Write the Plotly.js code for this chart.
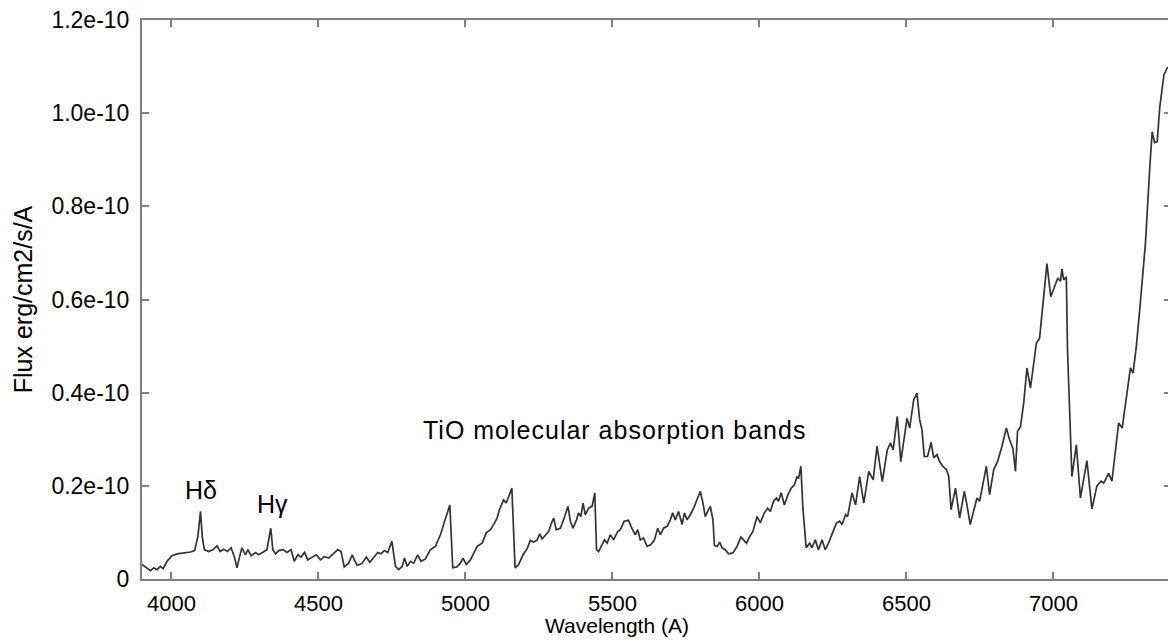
<!DOCTYPE html>
<html>
<head>
<meta charset="utf-8">
<script src="https://cdn.plot.ly/plotly-3.0.1.min.js"></script>
<style>
html,body{margin:0;padding:0;overflow:hidden;background:#fff;}
#chart{width:1171px;height:644px;}
g.annotation[data-index="2"] text.annotation-text{letter-spacing:1px;}
</style>
</head>
<body>
<div id="chart"></div>
<script>
// Wavelength (Angstrom)
var wavelength = [3900,3917,3929,3940,3951,3963,3972,3985,4002,4019,4042,4065,4079,4090,4099,4105,4112,4127,4142,4155,4166,4178,4191,4203,4214,4223,4232,4240,4252,4260,4271,4286,4297,4314,4325,4338,4345,4354,4365,4380,4393,4407,4418,4430,4441,4453,4464,4479,4493,4507,4520,4535,4552,4566,4577,4588,4603,4615,4622,4632,4649,4663,4675,4688,4702,4713,4724,4736,4750,4762,4773,4785,4793,4802,4813,4824,4838,4849,4864,4881,4898,4915,4932,4947,4957,4971,4983,4992,5003,5017,5040,5057,5071,5085,5099,5108,5116,5121,5130,5139,5147,5158,5169,5181,5196,5210,5221,5232,5244,5253,5261,5272,5283,5291,5300,5309,5323,5336,5349,5357,5366,5378,5385,5393,5400,5408,5419,5431,5440,5446,5453,5465,5473,5482,5493,5504,5518,5527,5540,5555,5566,5578,5586,5595,5606,5618,5631,5643,5654,5663,5674,5686,5697,5705,5714,5725,5737,5745,5754,5765,5779,5790,5799,5808,5816,5824,5833,5842,5847,5856,5865,5873,5884,5895,5910,5924,5937,5946,5956,5967,5978,5992,6003,6017,6028,6037,6048,6058,6065,6074,6085,6096,6108,6119,6128,6133,6141,6148,6153,6159,6171,6179,6190,6201,6213,6224,6235,6250,6262,6273,6281,6293,6300,6315,6327,6341,6355,6372,6387,6400,6418,6435,6446,6455,6469,6481,6502,6511,6525,6536,6545,6553,6561,6572,6584,6593,6604,6613,6624,6636,6644,6652,6667,6681,6697,6706,6717,6731,6740,6749,6760,6772,6783,6797,6810,6825,6840,6851,6862,6871,6878,6888,6899,6910,6922,6933,6942,6953,6965,6978,6991,7003,7015,7024,7029,7035,7044,7048,7055,7063,7078,7092,7114,7131,7148,7162,7171,7188,7199,7211,7222,7234,7251,7262,7271,7282,7296,7313,7328,7336,7344,7353,7362,7376,7387,7395];
// Flux in units of 1e-10 erg/cm2/s/A
var fluxE10 = [0.031,0.024,0.018,0.024,0.020,0.027,0.022,0.038,0.050,0.054,0.056,0.058,0.061,0.091,0.145,0.091,0.063,0.059,0.063,0.071,0.059,0.064,0.059,0.067,0.048,0.024,0.048,0.067,0.052,0.063,0.050,0.057,0.052,0.059,0.063,0.109,0.063,0.054,0.061,0.063,0.057,0.063,0.038,0.052,0.047,0.057,0.041,0.047,0.052,0.041,0.048,0.045,0.054,0.063,0.059,0.026,0.034,0.052,0.041,0.029,0.034,0.047,0.036,0.047,0.057,0.054,0.061,0.057,0.081,0.027,0.020,0.027,0.045,0.027,0.038,0.034,0.052,0.038,0.043,0.063,0.070,0.095,0.127,0.159,0.024,0.026,0.034,0.045,0.031,0.041,0.070,0.077,0.099,0.106,0.120,0.131,0.149,0.156,0.170,0.163,0.177,0.195,0.024,0.031,0.052,0.065,0.083,0.079,0.084,0.097,0.086,0.093,0.102,0.117,0.131,0.106,0.109,0.131,0.156,0.124,0.109,0.127,0.142,0.134,0.163,0.138,0.152,0.156,0.185,0.063,0.059,0.074,0.084,0.077,0.095,0.084,0.102,0.106,0.124,0.126,0.109,0.095,0.106,0.084,0.088,0.070,0.074,0.084,0.109,0.095,0.109,0.113,0.127,0.142,0.127,0.145,0.117,0.142,0.127,0.138,0.156,0.174,0.188,0.163,0.134,0.145,0.156,0.127,0.072,0.070,0.079,0.067,0.063,0.054,0.056,0.070,0.090,0.084,0.077,0.091,0.102,0.134,0.121,0.142,0.152,0.145,0.167,0.174,0.167,0.185,0.159,0.179,0.195,0.202,0.220,0.215,0.242,0.152,0.120,0.067,0.077,0.067,0.084,0.063,0.084,0.063,0.077,0.099,0.120,0.124,0.117,0.138,0.134,0.185,0.159,0.220,0.163,0.231,0.213,0.285,0.209,0.277,0.292,0.277,0.349,0.252,0.345,0.324,0.385,0.399,0.342,0.320,0.263,0.263,0.293,0.260,0.267,0.252,0.242,0.235,0.220,0.149,0.195,0.131,0.188,0.159,0.117,0.152,0.174,0.167,0.206,0.242,0.181,0.235,0.252,0.285,0.324,0.299,0.281,0.231,0.317,0.327,0.378,0.453,0.410,0.460,0.506,0.517,0.599,0.677,0.606,0.628,0.646,0.639,0.665,0.642,0.649,0.492,0.349,0.220,0.288,0.174,0.254,0.150,0.200,0.210,0.206,0.227,0.210,0.277,0.335,0.324,0.406,0.453,0.442,0.499,0.595,0.720,0.885,0.960,0.937,0.939,1.014,1.082,1.097,1.100];
var xTickVals = [4000,4500,5000,5500,6000,6500,7000];
var yTickVals = [0,0.2e-10,0.4e-10,0.6e-10,0.8e-10,1.0e-10,1.2e-10];
var yTickText = ["0","0.2e-10","0.4e-10","0.6e-10","0.8e-10","1.0e-10","1.2e-10"];
var xTitle = "Wavelength (A)";
var yTitle = "Flux erg/cm2/s/A";
var labels = [
  {text:"H\u03b4", x:4101, y:0.192e-10},
  {text:"H\u03b3", x:4344, y:0.160e-10},
  {text:"TiO molecular absorption bands", x:5508, y:0.320e-10}
];

var flux = fluxE10.map(function(v){return v*1e-10;});
var FONT = "Arial, 'Liberation Sans', sans-serif";
var axisColor = "#7f7f7f";

var trace = {
  x: wavelength, y: flux, type: "scatter", mode: "lines",
  line: {color: "#333333", width: 1.7}, hoverinfo: "x+y"
};

var annotations = labels.map(function(l, i){
  return {text:l.text, x:l.x, y:l.y, xref:"x", yref:"y", showarrow:false,
    xanchor:"center", yanchor:"middle",
    font:{family:FONT, size:25, color:"#000"}};
});
annotations.push({text:xTitle, xref:"paper", yref:"paper", x:0.4614, y:-0.084,
  xanchor:"center", yanchor:"middle", showarrow:false,
  font:{family:FONT, size:21, color:"#000"}});

var layout = {
  width: 1171, height: 644,
  margin: {l:142, r:0, t:20, b:65},
  paper_bgcolor:"#fff", plot_bgcolor:"#fff",
  showlegend:false,
  font:{family:FONT, color:"#000"},
  xaxis: {
    range:[3900,7400], tickvals:xTickVals, ticks:"inside", ticklen:7, tickwidth:1.5,
    tickcolor:axisColor, showline:true, linecolor:axisColor, linewidth:2, mirror:"ticks",
    showgrid:false, zeroline:false, tickfont:{family:FONT, size:22, color:"#000"},
    ticklabelstandoff: 4
  },
  yaxis: {
    range:[0,1.2e-10], tickvals:yTickVals, ticktext:yTickText, ticks:"inside", ticklen:7, tickwidth:1.5,
    tickcolor:axisColor, showline:true, linecolor:axisColor, linewidth:2, mirror:"ticks",
    showgrid:false, zeroline:false, tickfont:{family:FONT, size:23, color:"#000"},
    ticklabelstandoff: 6,
    title:{text:yTitle, font:{family:FONT, size:25, color:"#000"}, standoff:12}
  },
  annotations: annotations
};

Plotly.newPlot("chart", [trace], layout, {displayModeBar:false, staticPlot:false});
</script>
</body>
</html>
